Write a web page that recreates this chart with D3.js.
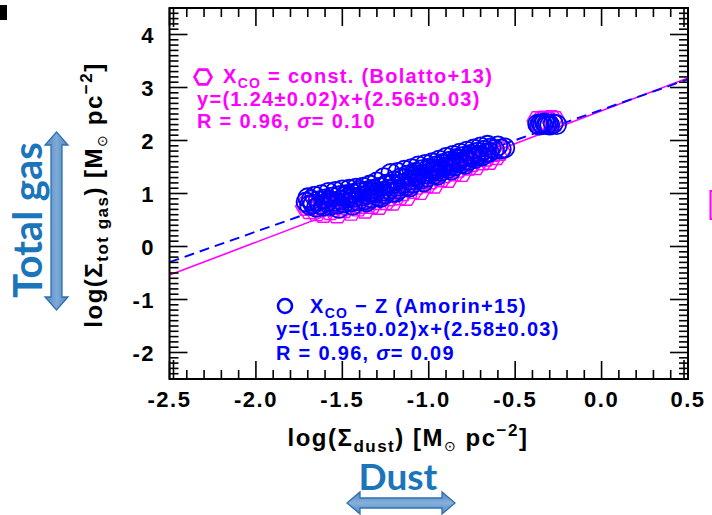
<!DOCTYPE html>
<html>
<head>
<meta charset="utf-8">
<script src="https://cdn.jsdelivr.net/npm/d3@7"></script>
<style>
  html, body { margin: 0; padding: 0; background: #fff; }
  svg { display: block; }
  text { font-family: "Liberation Sans", Arial, Helvetica, sans-serif; font-weight: bold; }
</style>
</head>
<body>
<svg id="chart" width="712" height="515"></svg>
<script>
// Dust surface density vs total gas surface density (log M_sun pc^-2)
const xTickValues = [-2.5, -2.0, -1.5, -1.0, -0.5, 0.0, 0.5];
const xTickLabels = ["-2.5", "-2.0", "-1.5", "-1.0", "-0.5", "0.0", "0.5"];
const yTickValues = [-2, -1, 0, 1, 2, 3, 4];
const yTickLabels = ["-2", "-1", "0", "1", "2", "3", "4"];

// X_CO - Z (Amorin+15) points
const amorinDust = [
  -1.71, -1.70, -1.69, -1.68, -1.67, -1.66, -1.65, -1.64, -1.63, -1.62,
  -1.61, -1.60, -1.59, -1.58, -1.57, -1.56, -1.55, -1.54, -1.53, -1.52,
  -1.51, -1.50, -1.49, -1.48, -1.47, -1.46, -1.45, -1.44, -1.43, -1.42,
  -1.41, -1.40, -1.39, -1.38, -1.37, -1.36, -1.35, -1.34, -1.33, -1.32,
  -1.31, -1.30, -1.29, -1.28, -1.27, -1.26, -1.25, -1.24, -1.23, -1.22,
  -1.21, -1.20, -1.19, -1.18, -1.17, -1.16, -1.15, -1.14, -1.13, -1.12,
  -1.11, -1.10, -1.09, -1.08, -1.07, -1.06, -1.05, -1.04, -1.03, -1.02,
  -1.01, -1.00, -0.99, -0.98, -0.97, -0.96, -0.95, -0.94, -0.93, -0.92,
  -0.91, -0.90, -0.89, -0.88, -0.87, -0.86, -0.85, -0.84, -0.83, -0.82,
  -0.81, -0.80, -0.79, -0.78, -0.77, -0.76, -0.75, -0.74, -0.73, -0.72,
  -0.71, -0.70, -0.69, -0.68, -0.67, -0.66, -0.65, -0.64, -0.62, -0.60,
  -0.58, -0.56,
  -1.52, -1.44, -1.36, -1.28, -1.19, -1.11, -1.03, -0.95, -0.87, -0.79,
  -1.48, -1.40, -1.32, -1.24, -1.15, -1.07, -0.99, -0.91, -0.83, -0.75,
  -1.58, -1.46, -1.34, -1.21, -1.09, -0.97, -0.85, -0.73,
  -0.37, -0.36, -0.35, -0.34, -0.33, -0.32, -0.31, -0.30, -0.28, -0.26
];
const amorinGas = [
  0.84, 0.92, 0.78, 0.88, 0.80, 0.95, 0.74, 0.86, 0.79, 0.98,
  0.76, 0.90, 0.83, 1.02, 0.77, 0.93, 0.85, 1.04, 0.80, 0.96,
  0.88, 1.07, 0.82, 0.98, 0.91, 1.08, 0.84, 1.00, 0.93, 1.10,
  0.86, 1.02, 0.95, 1.12, 0.88, 1.05, 0.98, 1.16, 0.91, 1.08,
  1.01, 1.22, 0.95, 1.12, 1.04, 1.30, 0.99, 1.18, 1.08, 1.38,
  1.02, 1.24, 1.13, 1.40, 1.08, 1.30, 1.19, 1.44, 1.14, 1.35,
  1.25, 1.47, 1.20, 1.40, 1.30, 1.52, 1.26, 1.45, 1.36, 1.55,
  1.31, 1.48, 1.41, 1.58, 1.36, 1.52, 1.45, 1.63, 1.42, 1.57,
  1.50, 1.68, 1.47, 1.61, 1.54, 1.72, 1.52, 1.66, 1.59, 1.76,
  1.57, 1.70, 1.63, 1.80, 1.62, 1.74, 1.68, 1.84, 1.66, 1.78,
  1.72, 1.88, 1.71, 1.82, 1.76, 1.91, 1.78, 1.86, 1.83, 1.90,
  1.84, 1.86,
  0.72, 0.78, 0.84, 0.92, 1.02, 1.12, 1.22, 1.34, 1.44, 1.55,
  0.95, 1.06, 1.04, 1.16, 1.27, 1.35, 1.46, 1.55, 1.64, 1.73,
  0.86, 0.94, 1.02, 1.18, 1.32, 1.44, 1.58, 1.70,
  2.31, 2.29, 2.32, 2.30, 2.33, 2.30, 2.31, 2.29, 2.32, 2.30
];

// X_CO = const. (Bolatto+13) points
const bolattoDust = [
  -1.71, -1.69, -1.67, -1.65, -1.63, -1.61, -1.59, -1.57, -1.55, -1.53,
  -1.51, -1.49, -1.47, -1.45, -1.43, -1.41, -1.39, -1.37, -1.35, -1.33,
  -1.31, -1.29, -1.27, -1.25, -1.23, -1.21, -1.19, -1.17, -1.15, -1.13,
  -1.11, -1.09, -1.07, -1.05, -1.03, -1.01, -0.99, -0.97, -0.95, -0.93,
  -0.91, -0.89, -0.87, -0.85, -0.83, -0.81, -0.79, -0.77, -0.75, -0.73,
  -0.71, -0.69, -0.67, -0.65, -0.63, -0.61, -0.59,
  -0.37, -0.35, -0.33, -0.31, -0.29, -0.27
];
const bolattoGas = [
  0.76, 0.70, 0.80, 0.66, 0.75, 0.63, 0.79, 0.68, 0.74, 0.62,
  0.82, 0.72, 0.77, 0.67, 0.86, 0.75, 0.80, 0.71, 0.90, 0.80,
  0.87, 0.78, 0.98, 0.87, 0.94, 0.86, 1.07, 0.96, 1.04, 0.95,
  1.18, 1.08, 1.16, 1.06, 1.29, 1.19, 1.26, 1.18, 1.41, 1.30,
  1.38, 1.29, 1.51, 1.41, 1.48, 1.40, 1.61, 1.52, 1.59, 1.53,
  1.70, 1.62, 1.69, 1.63, 1.78, 1.72, 1.80,
  2.37, 2.35, 2.38, 2.36, 2.39, 2.37
];

// Linear fits y = a x + b
const bolattoFit = { slope: 1.24, intercept: 2.56 };
const amorinFit = { slope: 1.15, intercept: 2.58 };

const MAGENTA = "#ff00ff";
const BLUE = "#0000ff";

const svg = d3.select("#chart");
const plotLeft = 169.5, plotRight = 688, plotTop = 8, plotBottom = 379;

const x = d3.scaleLinear().domain([-2.5, 0.5]).range([plotLeft, plotRight]);
const y = d3.scaleLinear().domain([-2.5, 4.5]).range([plotBottom, plotTop]);

const defs = svg.append("defs");
// clip for data marks
defs.append("clipPath").attr("id", "plotClip")
  .append("rect").attr("x", plotLeft).attr("y", plotTop)
  .attr("width", plotRight - plotLeft).attr("height", plotBottom - plotTop);

// arrow gradients
const gv = defs.append("linearGradient").attr("id", "gradV")
  .attr("x1", 0).attr("x2", 1).attr("y1", 0).attr("y2", 0);
gv.append("stop").attr("offset", "0%").attr("stop-color", "#4f88c3");
gv.append("stop").attr("offset", "50%").attr("stop-color", "#7eaad6");
gv.append("stop").attr("offset", "100%").attr("stop-color", "#4f88c3");
const gh = defs.append("linearGradient").attr("id", "gradH")
  .attr("x1", 0).attr("x2", 0).attr("y1", 0).attr("y2", 1);
gh.append("stop").attr("offset", "0%").attr("stop-color", "#4f88c3");
gh.append("stop").attr("offset", "50%").attr("stop-color", "#86b0da");
gh.append("stop").attr("offset", "100%").attr("stop-color", "#4f88c3");

const plot = svg.append("g").attr("clip-path", "url(#plotClip)");

// fit lines
const lineGen = d3.line().x(d => x(d[0])).y(d => y(d[1]));
const xEnds = x.domain();
plot.append("path")
  .datum(xEnds.map(v => [v, bolattoFit.slope * v + bolattoFit.intercept]))
  .attr("d", lineGen).attr("fill", "none")
  .attr("stroke", MAGENTA).attr("stroke-width", 1.6);
plot.append("path")
  .datum(xEnds.map(v => [v, amorinFit.slope * v + amorinFit.intercept]))
  .attr("d", lineGen).attr("fill", "none")
  .attr("stroke", BLUE).attr("stroke-width", 1.9)
  .attr("stroke-dasharray", "10,6");

// hexagon symbol (flat top and bottom)
function hexPath(r) {
  const pts = d3.range(6).map(i => {
    const a = Math.PI / 3 * i;
    return [r * Math.cos(a), r * Math.sin(a)];
  });
  return "M" + pts.map(p => p.join(",")).join("L") + "Z";
}

plot.append("g").selectAll("path")
  .data(d3.zip(bolattoDust, bolattoGas))
  .join("path")
  .attr("d", hexPath(10.5))
  .attr("transform", d => `translate(${x(d[0])},${y(d[1])})`)
  .attr("fill", "none").attr("stroke", MAGENTA).attr("stroke-width", 1.4);

plot.append("g").selectAll("circle")
  .data(d3.zip(amorinDust, amorinGas))
  .join("circle")
  .attr("cx", d => x(d[0])).attr("cy", d => y(d[1])).attr("r", 9.5)
  .attr("fill", "none").attr("stroke", BLUE).attr("stroke-width", 1.8);

// axes: ticks on all four sides, pointing inward
const axes = svg.append("g").attr("stroke", "#000").attr("stroke-width", 1.6);
const xMinor = d3.range(-25, 6).map(v => v / 10);
const yMinor = d3.range(-25, 46).map(v => v / 10);
const isMajorX = v => xTickValues.some(t => Math.abs(t - v) < 1e-6);
const isMajorY = v => yTickValues.some(t => Math.abs(t - v) < 1e-6);

xMinor.forEach(v => {
  const len = isMajorX(v) ? 18 : 9;
  const px = x(v);
  axes.append("line").attr("x1", px).attr("x2", px).attr("y1", plotBottom).attr("y2", plotBottom - len);
  axes.append("line").attr("x1", px).attr("x2", px).attr("y1", plotTop).attr("y2", plotTop + len);
});
yMinor.forEach(v => {
  const len = isMajorY(v) ? 18 : 9;
  const py = y(v);
  axes.append("line").attr("x1", plotLeft).attr("x2", plotLeft + len).attr("y1", py).attr("y2", py);
  axes.append("line").attr("x1", plotRight).attr("x2", plotRight - len).attr("y1", py).attr("y2", py);
});
// short end marks near the corners of the vertical axes
[[plotLeft + 4, plotTop, plotTop + 19], [plotLeft + 4, plotBottom - 19, plotBottom],
 [plotRight - 4, plotTop, plotTop + 19], [plotRight - 4, plotBottom - 19, plotBottom]].forEach(s => {
  axes.append("line").attr("x1", s[0]).attr("x2", s[0]).attr("y1", s[1]).attr("y2", s[2]);
});

svg.append("rect").attr("x", plotLeft).attr("y", plotTop)
  .attr("width", plotRight - plotLeft).attr("height", plotBottom - plotTop)
  .attr("fill", "none").attr("stroke", "#000").attr("stroke-width", 2);

// tick labels
svg.append("g").selectAll("text")
  .data(d3.zip(xTickValues, xTickLabels))
  .join("text")
  .attr("x", d => x(d[0])).attr("y", 407)
  .attr("text-anchor", "middle").attr("font-size", 22)
  .attr("letter-spacing", 1.5)
  .text(d => d[1]);

svg.append("g").selectAll("text")
  .data(d3.zip(yTickValues, yTickLabels))
  .join("text")
  .attr("x", 155).attr("y", d => y(d[0]) + 8)
  .attr("text-anchor", "end").attr("font-size", 22)
  .attr("letter-spacing", 1.5)
  .text(d => d[1]);

// axis titles
function titleText(sel, sub) {
  sel.append("tspan").text("log(\u03A3");
  sel.append("tspan").attr("font-size", 17).attr("dy", 6).text(sub);
  sel.append("tspan").attr("dy", -6).text(") [M");
  sel.append("tspan").attr("font-size", 14).attr("font-weight", "normal").attr("dy", 5).text("\u2299");
  sel.append("tspan").attr("dy", -5).text(" pc");
  sel.append("tspan").attr("font-size", 17).attr("dy", -10).text("\u22122");
  sel.append("tspan").attr("dy", 10).text("]");
}
const xTitle = svg.append("text").attr("x", 408).attr("y", 446)
  .attr("text-anchor", "middle").attr("font-size", 24).attr("letter-spacing", 1.5);
titleText(xTitle, "dust");

const yTitle = svg.append("text")
  .attr("transform", "translate(102,195) rotate(-90)")
  .attr("text-anchor", "middle").attr("font-size", 24).attr("letter-spacing", 1.5);
titleText(yTitle, "tot gas");

// legend / fit annotations
function annotation(color, lines, sx, sy, symbol, tx) {
  const g = svg.append("g").attr("fill", color);
  if (symbol === "hex") {
    g.append("path").attr("d", hexPath(8.5))
      .attr("transform", `translate(${sx},${sy})`)
      .attr("fill", "none").attr("stroke", color).attr("stroke-width", 2.6);
  } else {
    g.append("circle").attr("cx", sx).attr("cy", sy).attr("r", 7)
      .attr("fill", "none").attr("stroke", color).attr("stroke-width", 2.6);
  }
  lines.forEach((ln, i) => {
    const t = g.append("text").attr("x", i === 0 ? tx : ln.x).attr("y", ln.y)
      .attr("font-size", 20).attr("letter-spacing", 1.3);
    ln.parts.forEach(p => {
      const s = t.append("tspan").text(p.t);
      if (p.sub) s.attr("font-size", 14).attr("dy", 5);
      if (p.up) s.attr("dy", -5);
      if (p.it) s.attr("font-style", "italic");
    });
  });
}

annotation(MAGENTA, [
  { y: 83, parts: [{ t: "X" }, { t: "CO", sub: true }, { t: " = const. (Bolatto+13)", up: true }] },
  { x: 197, y: 105.5, parts: [{ t: "y=(1.24\u00B10.02)x+(2.56\u00B10.03)" }] },
  { x: 197, y: 128, parts: [{ t: "R = 0.96, " }, { t: "\u03C3", it: true }, { t: "= 0.10" }] }
], 203, 77, "hex", 223);

annotation(BLUE, [
  { y: 313, parts: [{ t: "X" }, { t: "CO", sub: true }, { t: " \u2212 Z (Amorin+15)", up: true }] },
  { x: 276, y: 336, parts: [{ t: "y=(1.15\u00B10.02)x+(2.58\u00B10.03)" }] },
  { x: 276, y: 360, parts: [{ t: "R = 0.96, " }, { t: "\u03C3", it: true }, { t: "= 0.09" }] }
], 285, 306, "circle", 310);

// "Total gas" with vertical double arrow
svg.append("text")
  .attr("transform", "translate(42,220) rotate(-90)")
  .attr("text-anchor", "middle")
  .style("font-family", "Lato, 'Open Sans', sans-serif")
  .style("font-weight", "bold")
  .attr("font-size", 40).attr("fill", "#1b75bb")
  .text("Total gas");

const vArrow = d3.path();
vArrow.moveTo(56.5, 132); vArrow.lineTo(68, 145); vArrow.lineTo(62, 145);
vArrow.lineTo(62, 297); vArrow.lineTo(68, 297); vArrow.lineTo(56.5, 310);
vArrow.lineTo(45, 297); vArrow.lineTo(51, 297); vArrow.lineTo(51, 145);
vArrow.lineTo(45, 145); vArrow.closePath();
svg.append("path").attr("d", vArrow.toString())
  .attr("fill", "url(#gradV)").attr("stroke", "#2f70b0").attr("stroke-width", 1.3);

// "Dust" with horizontal double arrow
svg.append("text")
  .attr("x", 398).attr("y", 490)
  .attr("text-anchor", "middle")
  .style("font-family", "Lato, 'Open Sans', sans-serif")
  .style("font-weight", "bold")
  .attr("font-size", 37).attr("fill", "#1b75bb")
  .text("Dust");

const hArrow = d3.path();
hArrow.moveTo(347, 503); hArrow.lineTo(360, 492); hArrow.lineTo(360, 498);
hArrow.lineTo(442, 498); hArrow.lineTo(442, 492); hArrow.lineTo(455, 503);
hArrow.lineTo(442, 514); hArrow.lineTo(442, 508); hArrow.lineTo(360, 508);
hArrow.lineTo(360, 514); hArrow.closePath();
svg.append("path").attr("d", hArrow.toString())
  .attr("fill", "url(#gradH)").attr("stroke", "#2f70b0").attr("stroke-width", 1.3);

// panel edge pieces
svg.append("rect").attr("x", 0).attr("y", 5).attr("width", 7).attr("height", 15).attr("fill", "#000");
svg.append("rect").attr("x", 710.5).attr("y", 191).attr("width", 20).attr("height", 28)
  .attr("fill", "#fbe3fb").attr("stroke", MAGENTA).attr("stroke-width", 2);
</script>
</body>
</html>
